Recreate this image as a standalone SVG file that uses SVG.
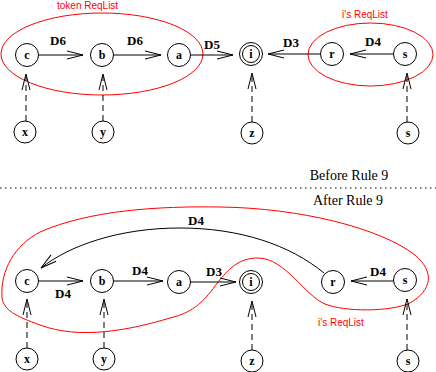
<svg xmlns="http://www.w3.org/2000/svg" width="436" height="372" viewBox="0 0 436 372">
<style>
.n{fill:#fff;stroke:#000;stroke-width:1}
.t{font-family:"Liberation Serif",serif;font-weight:bold;font-size:12px;text-anchor:middle;fill:#000}
.e{font-family:"Liberation Serif",serif;font-weight:bold;font-size:13px;text-anchor:middle;fill:#000}
.h{font-family:"Liberation Serif",serif;font-size:14px;text-anchor:middle;fill:#000}
.rl{font-family:"Liberation Sans",sans-serif;font-size:10px;fill:#f00}
.reg{fill:none;stroke:#f00;stroke-width:1}
.c{fill:none;stroke:#000;stroke-width:1;marker-end:url(#ah)}
.d{fill:none;stroke:#000;stroke-width:1;stroke-dasharray:6,4;marker-end:url(#ah)}
</style>
<defs>
<marker id="ah" markerUnits="userSpaceOnUse" markerWidth="20" markerHeight="10" refX="16" refY="0" orient="auto" overflow="visible">
<path d="M0,-4 L16,0 L0,4" fill="none" stroke="#000" stroke-width="1"/>
</marker>
</defs>
<rect width="436" height="372" fill="#fff"/>

<g id="regions">
<ellipse class="reg" cx="102" cy="54" rx="101" ry="41"/>
<text class="rl" x="57" y="9">token ReqList</text>
<ellipse class="reg" cx="370.5" cy="54.5" rx="62.5" ry="31.5"/>
<text class="rl" x="342" y="18">i's ReqList</text>
<path class="reg" d="M2,298 C0,270 15,245 40,232 C90,210 160,206 220,207 C300,208 380,228 415,255 C435,272 432,290 410,303 C390,312 345,312 325,304 C305,296 285,258 258,258 C238,258 228,270 218,282 C205,300 195,312 170,318 C130,330 80,340 40,325 C15,316 4,310 2,298 Z"/>
<text class="rl" x="318" y="326">i's ReqList</text>
</g>

<g id="labels">
<text class="h" x="349" y="180">Before Rule 9</text>
<line x1="0" y1="188" x2="436" y2="188" stroke="#000" stroke-width="1" stroke-dasharray="1.5,3.5"/>
<text class="h" x="348" y="205">After Rule 9</text>
</g>

<g id="connectors">
<line class="c" x1="39" y1="55" x2="83" y2="55"/>
<text class="e" x="58" y="45">D6</text>
<line class="c" x1="114" y1="55" x2="161" y2="55"/>
<text class="e" x="135" y="45">D6</text>
<line class="c" x1="190" y1="55" x2="233" y2="55"/>
<text class="e" x="212" y="49">D5</text>
<line class="c" x1="320" y1="54" x2="268" y2="54"/>
<text class="e" x="291" y="47">D3</text>
<line class="c" x1="393" y1="54" x2="350" y2="54"/>
<text class="e" x="373" y="46">D4</text>
<line class="d" x1="26" y1="121" x2="26" y2="74"/>
<line class="d" x1="103" y1="121" x2="103" y2="74"/>
<line class="d" x1="252" y1="122" x2="252" y2="73"/>
<line class="d" x1="407" y1="122" x2="407" y2="73"/>

<line class="c" x1="39" y1="281" x2="83" y2="281"/>
<text class="e" x="63" y="298">D4</text>
<line class="c" x1="114" y1="281" x2="163" y2="281"/>
<text class="e" x="140" y="275">D4</text>
<line class="c" x1="190" y1="282" x2="236" y2="282"/>
<text class="e" x="214" y="276">D3</text>
<line class="c" x1="394" y1="281" x2="351" y2="281"/>
<text class="e" x="378" y="276">D4</text>
<path class="c" d="M324,273 C290,245 240,228 180,228 C120,228 70,245 41,268"/>
<text class="e" x="196" y="225">D4</text>
<line class="d" x1="27" y1="348" x2="27" y2="299"/>
<line class="d" x1="104" y1="348" x2="104" y2="299"/>
<line class="d" x1="252" y1="350" x2="252" y2="301"/>
<line class="d" x1="407" y1="350" x2="407" y2="299"/>
</g>

<g id="top-c"><circle class="n" cx="27" cy="55" r="11.5"/><text class="t" x="27" y="59">c</text></g>
<g id="top-b"><circle class="n" cx="102" cy="55" r="11.5"/><text class="t" x="102" y="59">b</text></g>
<g id="top-a"><circle class="n" cx="179" cy="55" r="11.5"/><text class="t" x="179" y="59">a</text></g>
<g id="top-i"><circle class="n" cx="251" cy="54" r="11.5"/><circle class="n" cx="251" cy="54" r="8.5"/><text class="t" x="251" y="58">i</text></g>
<g id="top-r"><circle class="n" cx="332" cy="54" r="11.5"/><text class="t" x="332" y="58">r</text></g>
<g id="top-s"><circle class="n" cx="405" cy="54" r="11.5"/><text class="t" x="405" y="58">s</text></g>
<g id="top-x"><circle class="n" cx="25" cy="132" r="11"/><text class="t" x="25" y="136">x</text></g>
<g id="top-y"><circle class="n" cx="103" cy="132" r="11"/><text class="t" x="103" y="136">y</text></g>
<g id="top-z"><circle class="n" cx="252" cy="133" r="11"/><text class="t" x="252" y="137">z</text></g>
<g id="top-s2"><circle class="n" cx="408" cy="133" r="11"/><text class="t" x="408" y="137">s</text></g>

<g id="bot-c"><circle class="n" cx="27" cy="281" r="11.5"/><text class="t" x="27" y="285">c</text></g>
<g id="bot-b"><circle class="n" cx="102" cy="281" r="11.5"/><text class="t" x="102" y="285">b</text></g>
<g id="bot-a"><circle class="n" cx="179" cy="282" r="11.5"/><text class="t" x="179" y="286">a</text></g>
<g id="bot-i"><circle class="n" cx="251" cy="282" r="11.5"/><circle class="n" cx="251" cy="282" r="8.5"/><text class="t" x="251" y="286">i</text></g>
<g id="bot-r"><circle class="n" cx="333" cy="282" r="11.5"/><text class="t" x="333" y="286">r</text></g>
<g id="bot-s"><circle class="n" cx="405" cy="280" r="11.5"/><text class="t" x="405" y="284">s</text></g>
<g id="bot-x"><circle class="n" cx="27" cy="359" r="11"/><text class="t" x="27" y="363">x</text></g>
<g id="bot-y"><circle class="n" cx="104" cy="359" r="11"/><text class="t" x="104" y="363">y</text></g>
<g id="bot-z"><circle class="n" cx="252" cy="361" r="11"/><text class="t" x="252" y="365">z</text></g>
<g id="bot-s2"><circle class="n" cx="408" cy="361" r="11"/><text class="t" x="408" y="365">s</text></g>
</svg>
